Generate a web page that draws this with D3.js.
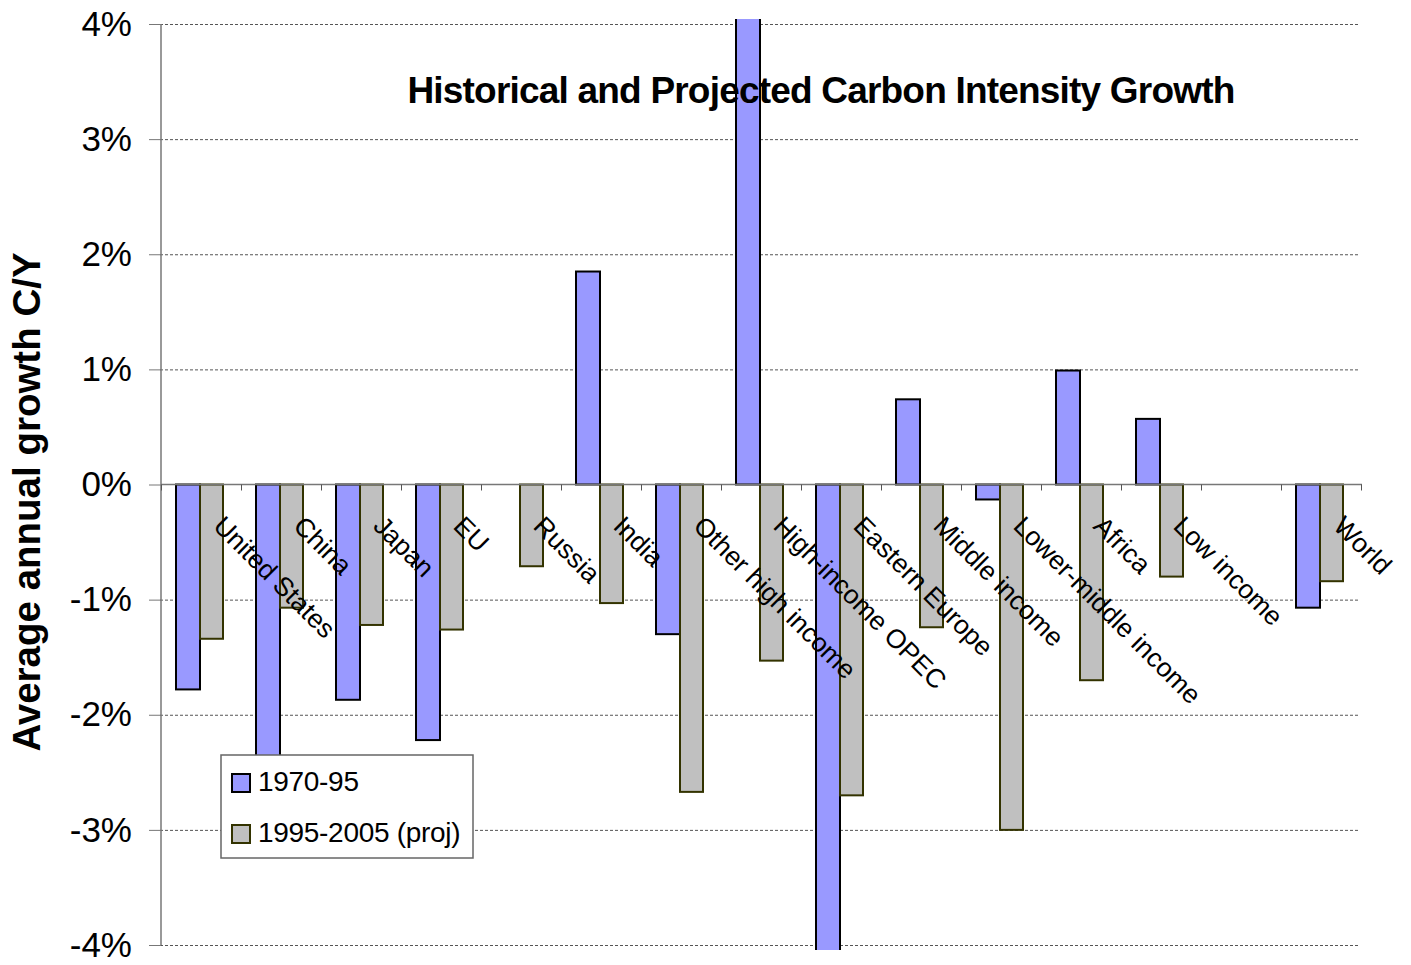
<!DOCTYPE html>
<html>
<head>
<meta charset="utf-8">
<script src="https://cdn.jsdelivr.net/npm/d3@7"></script>
<style>
  body { margin: 0; background: #fff; }
  text { font-family: "Liberation Sans", Arial, sans-serif; }
</style>
</head>
<body>
<div class="chart"></div>
<script>
var width = 1411, height = 965;

// data (percent per year)
let categories = ['United States', 'China', 'Japan', 'EU', 'Russia', 'India',
  'Other high income', 'High-income OPEC', 'Eastern Europe', 'Middle income',
  'Lower-middle income', 'Africa', 'Low income', '', 'World'];
let series = ['1970-95', '1995-2005 (proj)'];
let hist = [-1.78, -3.0, -1.87, -2.22, null, 1.85, -1.30, 4.4, -4.3, 0.74, -0.13, 0.99, 0.57, null, -1.07];
let proj = [-1.34, -1.07, -1.22, -1.26, -0.71, -1.03, -2.67, -1.53, -2.70, -1.24, -3.00, -1.70, -0.80, null, -0.84];
let yTicks = [-4, -3, -2, -1, 0, 1, 2, 3, 4];
let colors = ['#9999ff', '#c0c0c0'];
let strokes = ['#000000', '#333300'];

let plot = {left: 160, right: 1360, top: 24, bottom: 945};

let svg = d3.select('.chart')
  .append('svg')
  .attr('width', width)
  .attr('height', height);

let x = d3.scaleBand()
  .domain(categories)
  .range([plot.left, plot.right])
  .paddingInner(0.4)
  .paddingOuter(0.2);

let xSub = d3.scaleBand()
  .domain(series)
  .range([0, x.bandwidth()]);

let y = d3.scaleLinear()
  .domain([-4, 4])
  .range([plot.bottom, plot.top]);

// gridlines
svg.append('g')
  .selectAll('line')
  .data(yTicks.filter(d => d !== 0))
  .enter()
  .append('line')
  .attr('x1', plot.left)
  .attr('x2', plot.right)
  .attr('y1', d => y(d) + 0.5)
  .attr('y2', d => y(d) + 0.5)
  .style('stroke', '#555')
  .style('stroke-width', 1)
  .style('stroke-dasharray', '3,2');

svg.append('clipPath')
  .attr('id', 'plotclip')
  .append('rect')
  .attr('x', plot.left)
  .attr('y', plot.top - 5)
  .attr('width', plot.right - plot.left + 2)
  .attr('height', plot.bottom - plot.top + 10);

let rows = categories.map((c, i) => ({cat: c, values: [hist[i], proj[i]]}));

let groups = svg.append('g')
  .attr('clip-path', 'url(#plotclip)')
  .selectAll('g')
  .data(rows)
  .enter()
  .append('g')
  .attr('transform', d => `translate(${x(d.cat)}, 0)`);

groups.selectAll('rect')
  .data(d => d.values.map((v, k) => ({s: series[k], k: k, v: v})).filter(e => e.v !== null))
  .enter()
  .append('rect')
  .attr('x', d => xSub(d.s))
  .attr('width', d => xSub.bandwidth() - (d.k === 1 ? 1 : 0))
  .attr('y', d => y(Math.max(0, d.v)))
  .attr('height', d => Math.abs(y(d.v) - y(0)))
  .style('fill', d => colors[d.k])
  .style('stroke', d => strokes[d.k])
  .style('stroke-width', 2);

// y axis
let yAxis = d3.axisLeft(y)
  .tickValues(yTicks)
  .tickSize(12)
  .tickPadding(17)
  .tickFormat(d => d + '%');

let yG = svg.append('g')
  .attr('transform', `translate(${plot.left + 1}, 0)`)
  .call(yAxis);
yG.select('.domain').style('stroke', '#777').style('stroke-width', 1.5)
  .attr('d', `M0,${plot.top}V${plot.bottom}`);
yG.selectAll('.tick line').style('stroke', '#777');
yG.selectAll('.tick text')
  .style('font-size', '35px')
  .style('font-family', '"Liberation Sans", Arial, sans-serif')
  .style('fill', '#000');

// x axis along zero line, ticks at category boundaries
let xb = d3.scaleLinear().domain([0, categories.length]).range([plot.left, plot.right]);
let xAxis = d3.axisBottom(xb)
  .ticks(categories.length)
  .tickSize(6)
  .tickFormat('');
let xG = svg.append('g')
  .attr('transform', `translate(1, ${y(0)})`)
  .call(xAxis);
xG.select('.domain').style('stroke', '#777').style('stroke-width', 1.5)
  .attr('d', `M0,0H${plot.right - plot.left + 1}`)
  .attr('transform', `translate(${plot.left}, 0)`);
xG.selectAll('.tick line').style('stroke', '#555');

// category labels, rotated
svg.append('g')
  .selectAll('text')
  .data(categories)
  .enter()
  .append('text')
  .attr('transform', d => `translate(${x(d) + x.bandwidth() / 2 + 12}, ${y(0) + 43}) rotate(45)`)
  .style('font-size', '26.5px')
  .style('fill', '#000')
  .text(d => d);

// title
svg.append('text')
  .attr('x', 821)
  .attr('y', 103)
  .style('text-anchor', 'middle')
  .style('font-size', '37px')
  .style('font-weight', 'bold')
  .style('letter-spacing', '-0.8px')
  .text('Historical and Projected Carbon Intensity Growth');

// y title
svg.append('text')
  .attr('transform', 'translate(40, 502) rotate(-90)')
  .style('text-anchor', 'middle')
  .style('font-size', '38.5px')
  .style('font-weight', 'bold')
  .text('Average annual growth C/Y');

// legend
let legend = svg.append('g').attr('transform', 'translate(221, 755)');
legend.append('rect')
  .attr('width', 252)
  .attr('height', 103)
  .style('fill', '#fff')
  .style('stroke', '#666')
  .style('stroke-width', 1.5);

let items = legend.selectAll('.item')
  .data(series)
  .enter()
  .append('g')
  .attr('class', 'item')
  .attr('transform', (d, i) => `translate(0, ${i * 51})`);

items.append('rect')
  .attr('x', 11)
  .attr('y', 19)
  .attr('width', 18)
  .attr('height', 18)
  .style('fill', (d, i) => colors[i])
  .style('stroke', (d, i) => strokes[i])
  .style('stroke-width', 2);

items.append('text')
  .attr('x', 37)
  .attr('y', 36)
  .style('font-size', '28px')
  .style('letter-spacing', '-0.3px')
  .style('fill', '#000')
  .text(d => d);
</script>
</body>
</html>
